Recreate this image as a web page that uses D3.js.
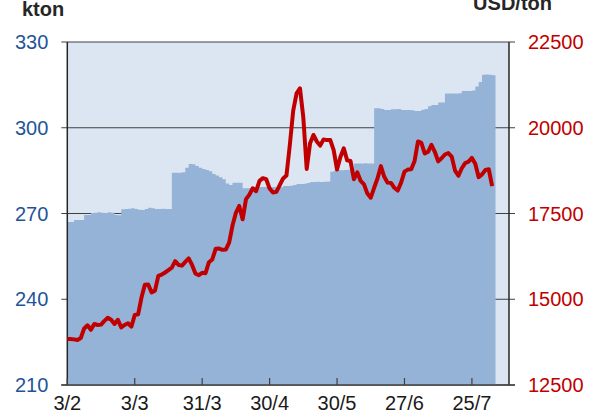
<!DOCTYPE html>
<html>
<head>
<meta charset="utf-8">
<script src="https://cdn.jsdelivr.net/npm/d3@7"></script>
<style>
  body { margin: 0; background: #fff; }
  text { font-family: "Liberation Sans", Arial, sans-serif; }
</style>
</head>
<body>
<script>
  var w = 602;
  var h = 411;

  // x axis ticks every 20 trading days
  var tickIndex = [0, 20, 40, 60, 80, 100, 120];
  var tickLabels = ["3/2", "3/3", "31/3", "30/4", "30/5", "27/6", "25/7"];
  var leftTicks = [210, 240, 270, 300, 330];
  var rightTicks = [12500, 15000, 17500, 20000, 22500];

  // stocks, kton (area)
  var stocks = [
    267.0, 267.0, 267.7, 267.7, 267.7, 269.5, 269.5, 270.2, 270.3, 270.4,
    270.3, 270.2, 270.4, 270.3, 269.5, 269.4, 271.5, 271.6, 271.7, 271.8,
    271.6, 271.3, 271.2, 271.6, 272.0, 271.8, 271.6, 271.6, 271.7, 271.6,
    271.6, 284.3, 284.3, 284.3, 284.4, 286.0, 287.3, 287.2, 286.6, 286.0,
    285.6, 285.2, 284.8, 283.8, 283.3, 282.7, 282.0, 280.5, 280.0, 280.8,
    280.8, 280.8, 278.8, 278.8, 278.9, 279.3, 279.4, 279.3, 279.3, 279.4,
    279.3, 279.3, 278.8, 279.2, 279.6, 279.6, 279.7, 280.0, 280.3, 280.3,
    280.4, 280.7, 281.0, 281.0, 281.1, 281.0, 281.1, 281.2, 284.6, 285.0,
    285.2, 285.1, 285.2, 285.3, 285.3, 287.5, 287.5, 287.5, 287.6, 287.5,
    287.5, 306.8, 306.8, 306.6, 306.2, 306.2, 306.5, 306.5, 306.6, 306.2,
    306.2, 306.2, 306.1, 305.9, 305.9, 306.3, 306.6, 307.5, 308.0, 308.0,
    308.8, 308.8, 312.0, 312.0, 312.0, 312.0, 312.1, 312.9, 312.9, 312.9,
    313.0, 314.4, 316.0, 318.5, 318.6, 318.5, 318.4
  ];

  // price, USD/ton (line)
  var price = [
    13840, 13840, 13830, 13810, 13870, 14150, 14240, 14110, 14280, 14250,
    14260, 14370, 14460, 14400, 14280, 14400, 14180, 14250, 14300, 14200,
    14540, 14560, 15050, 15420, 15430, 15200, 15250, 15680, 15720, 15780,
    15850, 15920, 16110, 16000, 15980, 16090, 16190, 16000, 15750, 15700,
    15770, 15760, 16080, 16160, 16470, 16480, 16440, 16450, 16650, 17150,
    17520, 17720, 17330, 17920, 18050, 18235, 18150, 18450, 18530, 18500,
    18230, 18110, 18130, 18330, 18520, 18610, 19500, 20500, 21000, 21150,
    20300, 18800, 19550, 19790, 19600, 19480, 19660, 19640, 19640, 19350,
    18780, 19150, 19400, 19050, 19030, 18500, 18700, 18450, 18350, 18080,
    17960, 18250, 18520, 18880, 18570, 18400, 18390, 18250, 18170, 18400,
    18720, 18780, 18790, 19030, 19600, 19560, 19250, 19300, 19500, 19300,
    19020, 19110, 19220, 19260, 19160, 18750, 18600, 18820, 18970, 19010,
    19120, 18950, 18560, 18640, 18770, 18790, 18300
  ];

  var pLeft = 67.3, pRight = 509, pTop = 42, pBottom = 385;

  var svg = d3.select("body").append("svg")
              .attr("width", w)
              .attr("height", h);

  var x = d3.scaleLinear().domain([0, 131]).range([pLeft, pRight]);
  var yL = d3.scaleLinear().domain([210, 330]).range([pBottom, pTop]);
  var yR = d3.scaleLinear().domain([12500, 22500]).range([pBottom, pTop]);

  // plot background
  svg.append("rect")
     .attr("x", pLeft)
     .attr("y", pTop)
     .attr("width", pRight - pLeft)
     .attr("height", pBottom - pTop)
     .attr("fill", "#dce6f2");

  // gridlines + outer ticks on both sides
  svg.selectAll("line.grid")
     .data(leftTicks)
     .enter()
     .append("line")
     .attr("class", "grid")
     .attr("x1", pLeft - 6)
     .attr("x2", pRight + 6)
     .attr("y1", function(d){ return yL(d); })
     .attr("y2", function(d){ return yL(d); })
     .attr("stroke", "#404040")
     .attr("stroke-width", 1.2);

  // stock area, one step per trading day
  var stockPts = stocks.map(function(d, i){ return [i, d]; });
  stockPts.push([stocks.length, stocks[stocks.length - 1]]);

  var area = d3.area()
               .curve(d3.curveStepAfter)
               .x(function(d){ return x(d[0]); })
               .y0(yL(210))
               .y1(function(d){ return yL(d[1]); });

  svg.append("path")
     .datum(stockPts)
     .attr("d", area)
     .attr("fill", "#95b3d7");

  // axes frame
  svg.append("line")
     .attr("x1", pLeft).attr("x2", pLeft)
     .attr("y1", pTop).attr("y2", pBottom)
     .attr("stroke", "#262626").attr("stroke-width", 1.5);
  svg.append("line")
     .attr("x1", pRight).attr("x2", pRight)
     .attr("y1", pTop).attr("y2", pBottom)
     .attr("stroke", "#262626").attr("stroke-width", 1.5);
  svg.append("line")
     .attr("x1", pLeft - 6).attr("x2", pRight + 6)
     .attr("y1", pBottom).attr("y2", pBottom)
     .attr("stroke", "#404040").attr("stroke-width", 1.5);

  // x ticks point inward
  svg.selectAll("line.xtick")
     .data(tickIndex)
     .enter()
     .append("line")
     .attr("class", "xtick")
     .attr("x1", function(d){ return x(d); })
     .attr("x2", function(d){ return x(d); })
     .attr("y1", pBottom)
     .attr("y2", pBottom - 7)
     .attr("stroke", "#404040")
     .attr("stroke-width", 1.2);

  // price line
  var line = d3.line()
               .x(function(d, i){ return x(i); })
               .y(function(d){ return yR(d); });

  svg.append("path")
     .datum(price)
     .attr("d", line)
     .attr("fill", "none")
     .attr("stroke", "#c00000")
     .attr("stroke-width", 4)
     .attr("stroke-linejoin", "round");

  // tick labels
  svg.selectAll("text.xl")
     .data(tickIndex)
     .enter()
     .append("text")
     .attr("class", "xl")
     .text(function(d, i){ return tickLabels[i]; })
     .attr("x", function(d){ return x(d); })
     .attr("y", 409.5)
     .attr("font-size", "20px")
     .attr("fill", "#1a1a1a")
     .attr("text-anchor", "middle");

  svg.selectAll("text.yl")
     .data(leftTicks)
     .enter()
     .append("text")
     .attr("class", "yl")
     .text(function(d){ return d; })
     .attr("x", pLeft - 19)
     .attr("y", function(d){ return yL(d); })
     .attr("dy", "0.36em")
     .attr("font-size", "20px")
     .attr("fill", "#1f5597")
     .attr("text-anchor", "end");

  svg.selectAll("text.yr")
     .data(rightTicks)
     .enter()
     .append("text")
     .attr("class", "yr")
     .text(function(d){ return d; })
     .attr("x", pRight + 19)
     .attr("y", function(d){ return yR(d); })
     .attr("dy", "0.36em")
     .attr("font-size", "20px")
     .attr("fill", "#c00000")
     .attr("text-anchor", "start");

  // unit titles
  svg.append("text")
     .text("kton")
     .attr("x", 22)
     .attr("y", 16)
     .attr("font-size", "20px")
     .attr("font-weight", "bold")
     .attr("fill", "#262626");

  svg.append("text")
     .text("USD/ton")
     .attr("x", 552)
     .attr("y", 10)
     .attr("font-size", "20px")
     .attr("font-weight", "bold")
     .attr("fill", "#262626")
     .attr("text-anchor", "end");
</script>
</body>
</html>
